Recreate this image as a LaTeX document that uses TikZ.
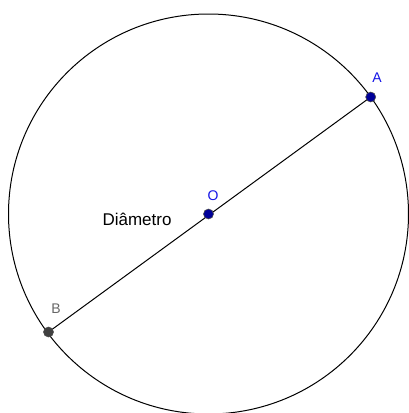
\documentclass[tikz,border=0pt]{standalone}
\usepackage{fontspec}
\setmainfont{Liberation Sans}
\usetikzlibrary{positioning}
\definecolor{ptBleu}{RGB}{0, 0, 153}
\definecolor{lblBleu}{RGB}{20, 20, 230}
\definecolor{ptGris}{RGB}{64, 64, 64}

\begin{document}
\begin{tikzpicture}[x=1pt, y=-1pt,
    point/.style={circle, fill=#1, draw=black!70, line width=0.6pt, inner sep=0pt, minimum size=10pt},
    etiq/.style={font=\fontsize{14}{16}\selectfont, inner sep=0pt}]
        \useasboundingbox (0,0) rectangle (409,413);
        
        % Le cercle
        \coordinate (O) at (208.5,214);
        \draw[line width=1pt] (O) circle (200);
        
        % Points du diametre
        \coordinate (A) at (370.7,97);
        \coordinate (B) at (48.5,332);
        
        % Le diametre
        \draw[line width=1pt] (B) -- (A);
        
        % Points marques
        \node[point=ptBleu] (pA) at (A) {};
        \node[point=ptBleu] (pO) at (O) {};
        \node[point=ptGris] (pB) at (B) {};
        
        % Labels des points
        \node[etiq, lblBleu] (lA) at (377,78) {A};
        \node[etiq, lblBleu] (lO) at (213,196) {O};
        \node[etiq, ptGris!80] (lB) at (56,309) {B};
        \node[font=\fontsize{17}{20}\selectfont, inner sep=0pt] (diam) at (137,219.5) {Diâmetro};
    \end{tikzpicture}
\end{document}
